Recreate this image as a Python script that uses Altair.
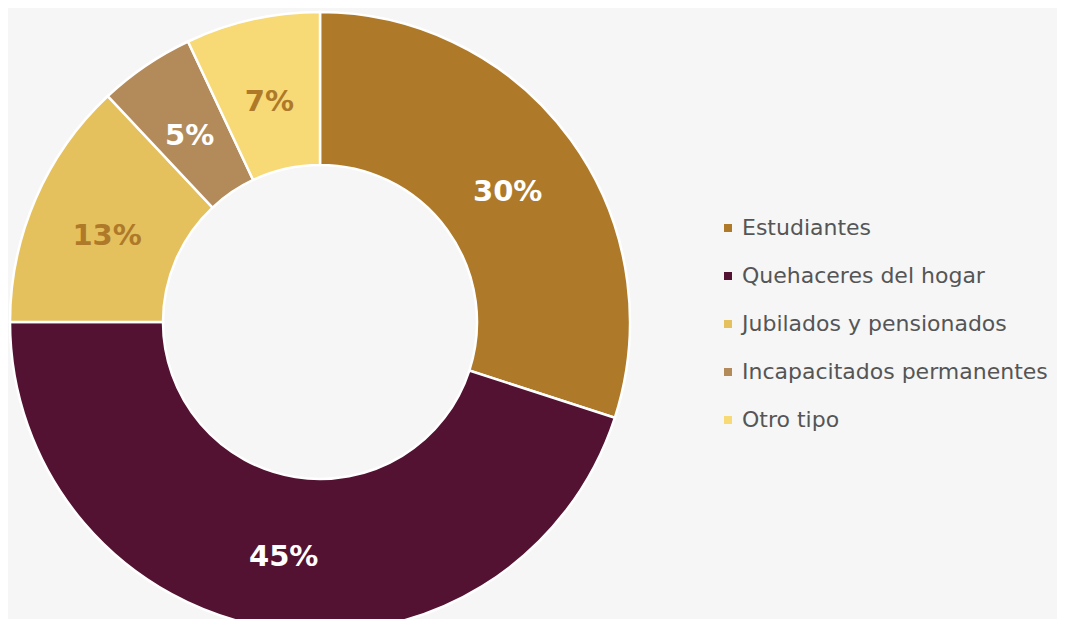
import altair as alt
import pandas as pd

categories = ["Estudiantes", "Quehaceres del hogar", "Jubilados y pensionados",
              "Incapacitados permanentes", "Otro tipo"]
values = [30, 45, 13, 5, 7]
labels = ["30%", "45%", "13%", "5%", "7%"]
colors = ["#AE7A2A", "#541232", "#E5C15E", "#B38B5B", "#F7D976"]
label_colors = ["#FFFFFF", "#FFFFFF", "#AE7A2A", "#FFFFFF", "#AE7A2A"]

df = pd.DataFrame({
    "cat": categories,
    "value": values,
    "label": labels,
    "idx": list(range(len(categories))),
    "tcolor": label_colors,
})

CX, CY = 312, 314

base = alt.Chart(df).encode(
    theta=alt.Theta("value:Q", stack=True),
    order=alt.Order("idx:Q"),
    x=alt.value(CX),
    y=alt.value(CY),
)

arcs = base.mark_arc(outerRadius=310, innerRadius=157, stroke="white", strokeWidth=2.5).encode(
    color=alt.Color(
        "cat:N",
        scale=alt.Scale(domain=categories, range=colors),
        sort=categories,
        legend=alt.Legend(
            title=None,
            orient="none",
            legendX=709,
            legendY=209,
            symbolType="square",
            symbolSize=64,
            symbolStrokeWidth=0,
            labelFontSize=22,
            labelFont="DejaVu Sans",
            labelColor="#555555",
            labelOffset=3,
            rowPadding=26,
            labelLimit=400,
            padding=0,
        ),
    ),
)

texts = base.mark_text(radius=232, font="DejaVu Sans", fontSize=29, fontWeight="bold",
                       align="center", baseline="middle", dy=6).encode(
    text="label:N",
    color=alt.Color("tcolor:N", scale=None),
)

chart = (arcs + texts).properties(
    width=1049,
    height=611,
    autosize=alt.AutoSizeParams(type="none"),
    padding=0,
    background="#f6f6f6",
).configure_view(stroke=None)

chart.save("out.html", embed_options={"renderer": "svg", "actions": False})
